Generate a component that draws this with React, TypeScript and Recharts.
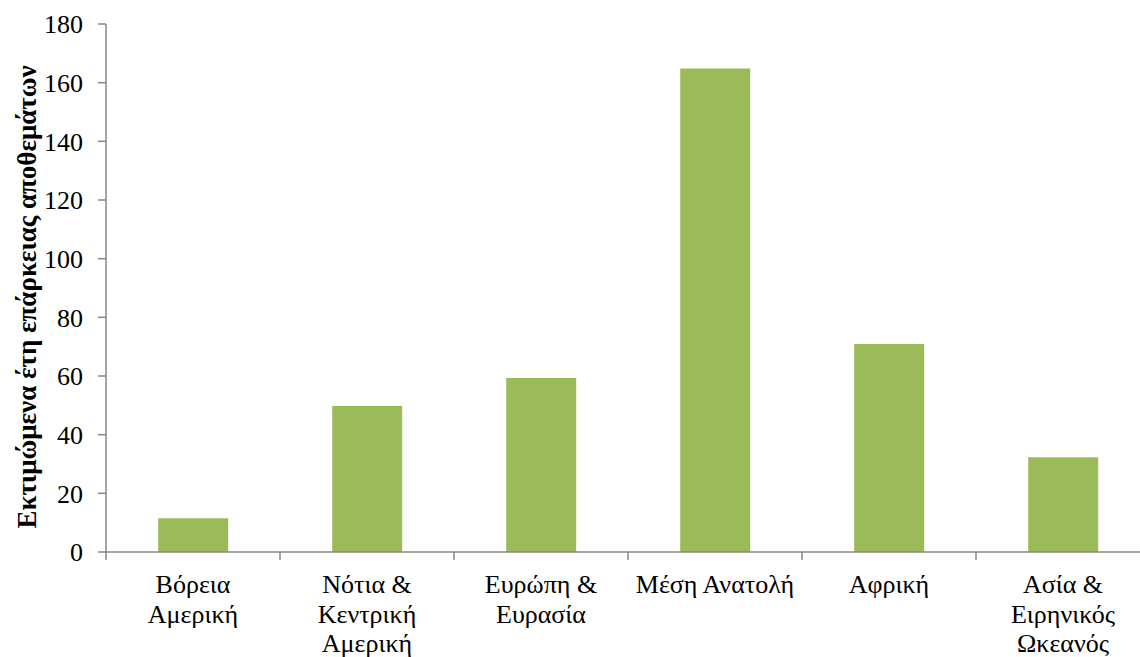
import React from "react"
import { BarChart, Bar, XAxis, YAxis } from "recharts"

const regions = [
  "Βόρεια\nΑμερική",
  "Νότια &\nΚεντρική\nΑμερική",
  "Ευρώπη &\nΕυρασία",
  "Μέση Ανατολή",
  "Αφρική",
  "Ασία &\nΕιρηνικός\nΩκεανός",
]
const reserveYears = [11.5, 49.8, 59.3, 164.8, 70.9, 32.3]
const yTicks = [0, 20, 40, 60, 80, 100, 120, 140, 160, 180]

const data = regions.map((name, i) => ({ name, years: reserveYears[i] }))

const FONT = '"Liberation Serif", "Times New Roman", serif'
const AXIS = "#878787"

function RegionTick(props: any) {
  const { x, y, payload, width, visibleTicksCount } = props
  const lines = String(payload.value).split("\n")
  // boundary tick on the left edge of each category, like Excel
  const half = width && visibleTicksCount ? width / visibleTicksCount / 2 : 87
  const axisY = y - 8
  return (
    <g>
      <line x1={x - half} x2={x - half} y1={axisY} y2={axisY + 8} stroke={AXIS} strokeWidth={1.5} />
      <text x={x} y={y + 33} textAnchor="middle" style={{ fontFamily: FONT, fontSize: 26 }} fill="#000">
        {lines.map((l, i) => (
          <tspan key={i} x={x} dy={i === 0 ? 0 : 29.5}>
            {l}
          </tspan>
        ))}
      </text>
    </g>
  )
}

function YLabel() {
  return (
    <text
      x={27}
      y={297}
      transform="rotate(-90, 27, 297)"
      textAnchor="middle"
      dominantBaseline="central"
      style={{ fontFamily: FONT, fontSize: 27, fontWeight: "bold" }}
      fill="#000"
    >
      Εκτιμώμενα έτη επάρκειας αποθεμάτων
    </text>
  )
}

export default function App() {
  return (
    <div style={{ position: "absolute", left: 0, top: 0, width: 1140, height: 657, overflow: "hidden", background: "#fff" }}>
      <BarChart
        width={1150}
        height={657}
        data={data}
        margin={{ top: 24, right: 0, bottom: 0, left: 0 }}
        barCategoryGap="30%"
      >
        <XAxis
          dataKey="name"
          height={105}
          interval={0}
          tick={<RegionTick />}
          tickSize={8}
          tickMargin={0}
          axisLine={{ stroke: AXIS, strokeWidth: 1.5 }}
          tickLine={false}
        />
        <YAxis
          width={106}
          domain={[0, 180]}
          ticks={yTicks}
          tickSize={8}
          tickMargin={15}
          tick={{ style: { fontFamily: FONT, fontSize: 26 }, fill: "#000" }}
          axisLine={{ stroke: AXIS, strokeWidth: 1.5 }}
          tickLine={{ stroke: AXIS, strokeWidth: 1.5 }}
          label={<YLabel />}
        />
        <Bar dataKey="years" fill="#9BBB59" isAnimationActive={false} />
      </BarChart>
    </div>
  )
}
